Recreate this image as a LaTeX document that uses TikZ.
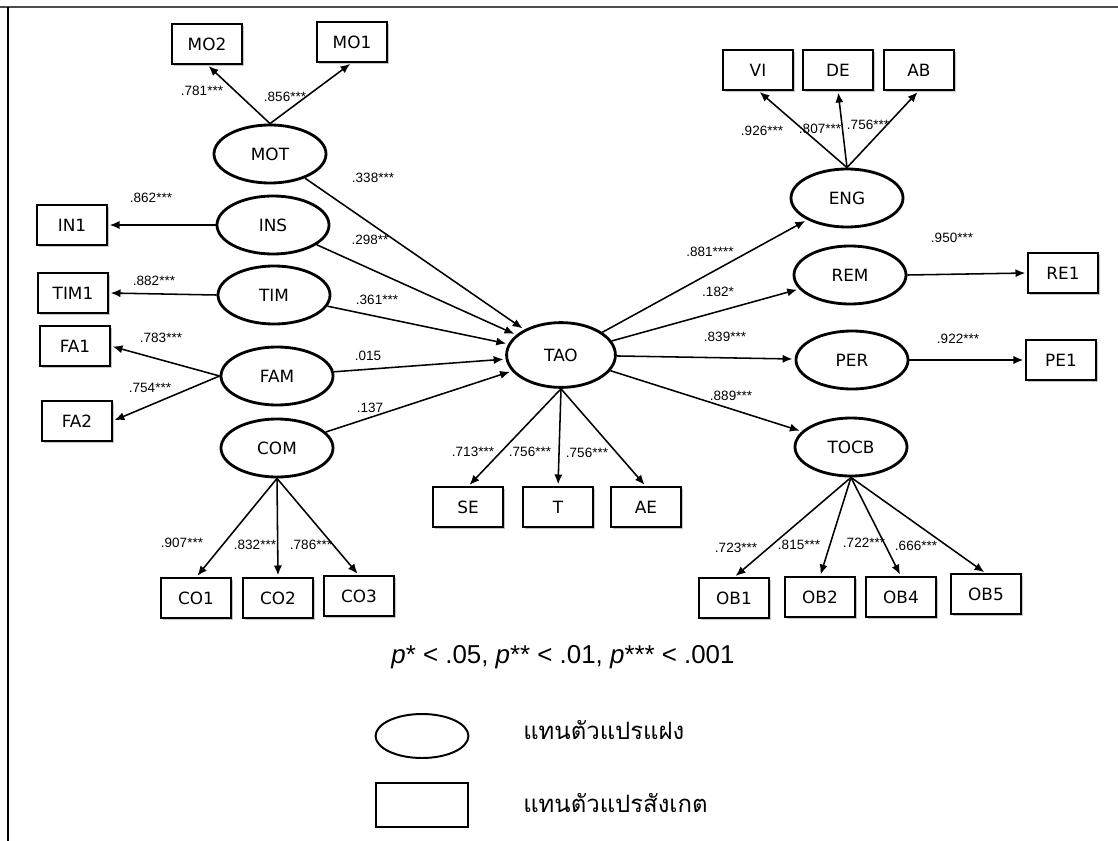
\documentclass[tikz,border=0pt]{standalone}
\usepackage{fontspec}
\setmainfont{Liberation Sans}
\newfontfamily\boxfont{DejaVu Sans}
\newfontfamily\thaifont[Script=Thai]{Loma}
\usepackage{tikz}
\usetikzlibrary{arrows.meta}
\usetikzlibrary{positioning}
\usetikzlibrary{shapes.geometric}
\usetikzlibrary{shadows}
\tikzstyle{every node}+=[inner sep=0pt]
\tikzstyle{obs} = [rectangle, draw, line width=0.8pt, fill=white, font=\boxfont\fontsize{12}{14}\selectfont, minimum width=1.75cm, minimum height=1cm, drop shadow={shadow xshift=0.05cm, shadow yshift=-0.05cm, fill=black!45, opacity=0.5}]
\tikzstyle{latent} = [ellipse, draw, line width=2pt, fill=white, font=\boxfont\fontsize{12}{14}\selectfont, minimum width=2.8cm, minimum height=1.45cm]
\tikzstyle{line} = [draw, line width=1.1pt, -{Latex[length=7pt, width=5.8pt]}, shorten >=1.5pt]
\tikzstyle{value} = [font=\fontsize{9.6}{11}\selectfont]

\begin{document}
\begin{tikzpicture}[x=0.025cm, y=-0.025cm]
            \useasboundingbox (0,0) rectangle (1118,841);
            \draw [black!70, line width=1.4pt] (0,7) -- (1118,7);
            \draw [line width=1.4pt] (8,7) -- (8,841);
            % Place nodes
            \node [obs] (mo2) at (207,44) {MO2};
            \node [obs] (mo1) at (352,42) {MO1};
            \node [latent] (mot) at (270,154) {MOT};
            \node [latent] (ins) at (273,225) {INS};
            \node [latent] (tim) at (274,295) {TIM};
            \node [latent] (fam) at (277,376) {FAM};
            \node [latent] (com) at (277,448) {COM};
            \node [obs] (in1) at (72,225) {IN1};
            \node [obs] (tim1) at (73,293) {TIM1};
            \node [obs] (fa1) at (75,346) {FA1};
            \node [obs] (fa2) at (77,421) {FA2};
            \node [obs] (co1) at (196,598) {CO1};
            \node [obs] (co2) at (278,598) {CO2};
            \node [obs] (co3) at (359,596) {CO3};
            \node [latent, minimum width=2.72cm, minimum height=1.62cm] (tao) at (561,355) {TAO};
            \node [obs] (se) at (468,507) {SE};
            \node [obs] (t) at (558,507) {T};
            \node [obs] (ae) at (646,507) {AE};
            \node [latent] (eng) at (847,198) {ENG};
            \node [latent] (rem) at (850,275) {REM};
            \node [latent] (per) at (852,360) {PER};
            \node [latent] (tocb) at (851,447) {TOCB};
            \node [obs] (vi) at (758,70) {VI};
            \node [obs] (de) at (838,70) {DE};
            \node [obs] (ab) at (919,70) {AB};
            \node [obs] (re1) at (1063,273) {RE1};
            \node [obs] (pe1) at (1061,360) {PE1};
            \node [obs] (ob1) at (734,598) {OB1};
            \node [obs] (ob2) at (820,597) {OB2};
            \node [obs] (ob4) at (901,597) {OB4};
            \node [obs] (ob5) at (986,594) {OB5};
            % Place values
            \node [value] (v1) at (202,91) {.781***};
            \node [value] (v2) at (285,97) {.856***};
            \node [value] (v3) at (373,178) {.338***};
            \node [value] (v4) at (151,198) {.862***};
            \node [value] (v5) at (370,240) {.298**};
            \node [value] (v6) at (154,281) {.882***};
            \node [value] (v7) at (377,300) {.361***};
            \node [value] (v8) at (161,338) {.783***};
            \node [value] (v9) at (150,388) {.754***};
            \node [value] (v10) at (368,356) {.015};
            \node [value] (v11) at (370,408) {.137};
            \node [value] (v12) at (473,452) {.713***};
            \node [value] (v13) at (530,452) {.756***};
            \node [value] (v14) at (587,453) {.756***};
            \node [value] (v15) at (182,543) {.907***};
            \node [value] (v16) at (255,545) {.832***};
            \node [value] (v17) at (311,545) {.786***};
            \node [value] (v18) at (762,131) {.926***};
            \node [value] (v19) at (820,129) {.807***};
            \node [value] (v20) at (868,125) {.756***};
            \node [value] (v21) at (710,252) {.881****};
            \node [value] (v22) at (718,292) {.182*};
            \node [value] (v23) at (952,238) {.950***};
            \node [value] (v24) at (725,337) {.839***};
            \node [value] (v25) at (958,339) {.922***};
            \node [value] (v26) at (731,396) {.889***};
            \node [value] (v27) at (736,548) {.723***};
            \node [value] (v28) at (799,545) {.815***};
            \node [value] (v29) at (864,543) {.722***};
            \node [value] (v30) at (916,546) {.666***};
            % Draw edges
            \path [line] (mot.north) -- (mo2.south);
            \path [line] (mot.north) -- (mo1.south);
            \path [line] (ins.west) -- (in1.east);
            \path [line] (tim.west) -- (tim1.east);
            \path [line] (fam.west) -- (fa1.east);
            \path [line] (fam.west) -- (fa2.east);
            \path [line] (com.south) -- (co1.north);
            \path [line] (com.south) -- (co2.north);
            \path [line] (com.south) -- (co3.north);
            \path [line] (mot) -- (tao);
            \path [line] (ins) -- (tao);
            \path [line] (tim) -- (tao);
            \path [line] (fam) -- (tao);
            \path [line] (com) -- (tao);
            \path [line] (tao.south) -- (se.north);
            \path [line] (tao.south) -- (t.north);
            \path [line] (tao.south) -- (ae.north);
            \path [line] (tao) -- (eng);
            \path [line] (tao) -- (rem);
            \path [line] (tao) -- (per);
            \path [line] (tao) -- (tocb);
            \path [line] (eng.north) -- (vi.south);
            \path [line] (eng.north) -- (de.south);
            \path [line] (eng.north) -- (ab.south);
            \path [line] (rem.east) -- (re1.west);
            \path [line] (per.east) -- (pe1.west);
            \path [line] (tocb.south) -- (ob1.north);
            \path [line] (tocb.south) -- (ob2.north);
            \path [line] (tocb.south) -- (ob4.north);
            \path [line] (tocb.south) -- (ob5.north);
            % Legend
            \node [font=\fontsize{18.4}{22}\selectfont] (sig) at (563,657) {\textit{p}* < .05, \textit{p}** < .01, \textit{p}*** < .001};
            \node [ellipse, draw, line width=1.4pt, minimum width=2.32cm, minimum height=1.1cm] (keylat) at (422,736) {};
            \node [rectangle, draw, line width=1.4pt, minimum width=2.28cm, minimum height=1.12cm] (keyobs) at (422,805) {};
            \node [anchor=west, font=\thaifont\fontsize{17}{20}\selectfont] (keylattext) at (523,730) {แทนตัวแปรแฝง};
            \node [anchor=west, font=\thaifont\fontsize{17}{20}\selectfont] (keyobstext) at (523,803) {แทนตัวแปรสังเกต};
          \end{tikzpicture}
\end{document}
